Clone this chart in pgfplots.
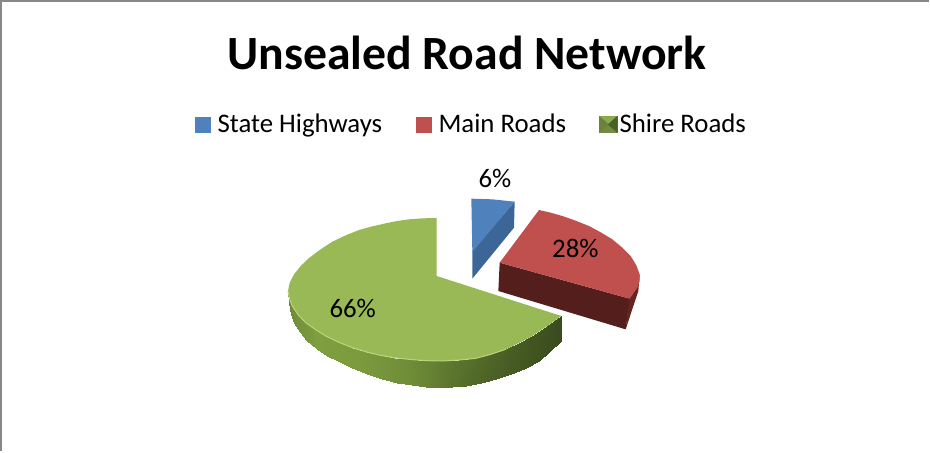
\documentclass[border=0pt]{standalone}
\usepackage{pgfplots}
\pgfplotsset{compat=1.18}
\usepackage{fontspec}
\setmainfont{Carlito}
\definecolor{frame}{RGB}{136,136,136}
\definecolor{bluetop}{RGB}{79,129,189}
\definecolor{blueside}{RGB}{60,101,152}
\definecolor{redtop}{RGB}{192,80,77}
\definecolor{redface}{RGB}{84,30,28}
\definecolor{redouter}{RGB}{104,36,32}
\definecolor{greentop}{RGB}{152,185,86}
\definecolor{greenrim}{RGB}{186,212,122}
\definecolor{swdark}{RGB}{72,98,36}
\begin{document}
\begin{tikzpicture}
\begin{axis}[
  scale only axis, width=930pt, height=452pt,
  xmin=-810, xmax=1980, ymin=-480, ymax=876, y dir=reverse,
  hide axis, clip=false,
  point meta min=0, point meta max=1,
  colormap={gside}{rgb255=(104,134,56) rgb255=(126,158,64) rgb255=(124,155,62) rgb255=(112,142,56) rgb255=(92,118,46) rgb255=(76,98,38) rgb255=(66,86,33) rgb255=(58,76,30)},
  legend style={at={(axis cs:-222,-105)}, anchor=west, draw=none, fill=none, inner sep=0pt, font=\fontsize{26.8}{30}\selectfont,
     legend columns=3, nodes={inner xsep=0pt, inner ysep=0pt}},
  legend cell align=left,
]
% frame
\addplot[frame, line width=2pt, forget plot] table {
x y
-804 876
-804 -475
1980 -475
};
% blue wedge
\addplot[fill=blueside, draw=none, forget plot] table {
x y
737 127
735 205
610 358
610 275
};
\addplot[fill=bluetop, draw=none, forget plot] table {
x y
607 118
670 120
737 127
610 278
};
% red wedge
\addplot[fill=redouter, draw=none, forget plot] table {
x y
1112 345
1108 395
1070 510
1080 418
};
\addplot[fill=redface, draw=none, forget plot] table {
x y
692 310
1082 418
1070 510
688 395
};
\addplot[fill=redtop, draw=none, forget plot] table {
x y
810 152
845 160
880 170
920 184
960 200
997 220
1030 240
1060 265
1085 290
1102 318
1112 345
1112 365
1105 385
1082 418
692 310
};
% green side
\addplot[surf, shader=interp, point meta=explicit, forget plot] table[meta=c] {
x y c
57 395 0
60 430 0

62 420 0.02
66 465 0.02

70 440 0.05
75 490 0.05

88 467 0.08
92 518 0.08

110 490 0.1
115 545 0.1

140 511 0.14
143 568 0.14

170 530 0.18
175 590 0.18

210 549 0.22
212 608 0.22

250 565 0.27
250 625 0.27

290 577 0.31
295 643 0.31

330 587 0.35
340 660 0.35

375 595 0.4
385 670 0.4

420 600 0.44
430 678 0.44

470 604 0.49
470 683 0.49

520 605 0.54
510 685 0.54

570 602 0.59
550 683 0.59

620 597 0.64
590 680 0.64

665 585 0.69
635 671 0.69

710 570 0.74
680 660 0.74

750 551 0.8
725 643 0.8

790 530 0.86
770 625 0.86

835 500 0.93
810 605 0.93

877 470 1
877 545 1
};
% green top
\addplot[fill=greentop, draw=none, forget plot] table {
x y
503 350
503 176
460 177
420 180
385 185
350 192
310 201
270 212
230 228
190 247
155 270
120 296
95 320
75 345
62 370
57 395
62 420
70 440
88 467
110 490
140 511
170 530
210 549
250 565
290 577
330 587
375 595
420 600
470 604
520 605
570 602
620 597
665 585
710 570
750 551
790 530
835 500
877 470
};
\addplot[greenrim, line width=1pt, forget plot] table {
x y
57 395
62 420
70 440
88 467
110 490
140 511
170 530
210 549
250 565
290 577
330 587
375 595
420 600
470 604
520 605
570 602
620 597
665 585
710 570
};
% data labels
\node[font=\fontsize{26.8}{30}\selectfont] at (axis cs:678,57) {6\%};
\node[font=\fontsize{26.8}{30}\selectfont] at (axis cs:919,267) {28\%};
\node[font=\fontsize{26.8}{30}\selectfont] at (axis cs:251,447) {66\%};
% title
\node[font=\fontsize{47.7}{55}\bfseries\selectfont] at (axis cs:594,-318) {Unsealed Road Network};
% legend
\addlegendimage{legend image code/.code={\fill[bluetop] (0pt,-7.5pt) rectangle (15pt,7.5pt);}}
\addlegendentry{\hspace{7pt}State Highways\rule{34pt}{0pt}}
\addlegendimage{legend image code/.code={\fill[redtop] (0pt,-7.5pt) rectangle (15pt,7.5pt);}}
\addlegendentry{\hspace{7pt}Main Roads\rule{33pt}{0pt}}
\addlegendimage{legend image code/.code={
  \fill[greentop!80!black] (0pt,-8pt) rectangle (18pt,8pt);
  \fill[greentop!92!black] (0pt,8pt) -- (18pt,8pt) -- (9pt,0pt) -- cycle;
  \fill[greentop!75!black] (0pt,-8pt) -- (18pt,-8pt) -- (9pt,0pt) -- cycle;
  \fill[greentop!70!black] (0pt,8pt) -- (9pt,0pt) -- (0pt,-8pt) -- cycle;
  \fill[swdark] (18pt,8pt) -- (9pt,0pt) -- (18pt,-8pt) -- cycle;
}}
\addlegendentry{\hspace{2pt}Shire Roads}
\end{axis}
\end{tikzpicture}
\end{document}
